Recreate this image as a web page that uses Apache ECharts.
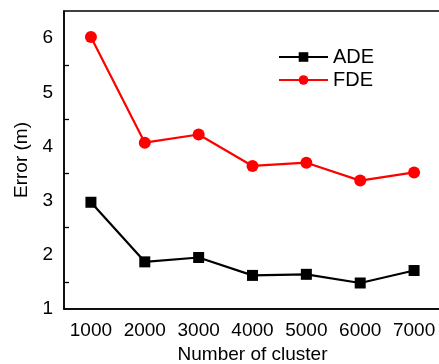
<!DOCTYPE html>
<html>
<head>
<meta charset="utf-8">
<script src="https://cdn.jsdelivr.net/npm/echarts@6/dist/echarts.min.js"></script>
<style>
  html, body { margin: 0; padding: 0; background: #fff; }
  #chart { width: 439px; height: 364px; }
</style>
</head>
<body>
<div id="chart"></div>
<script>
const clusters = ['1000', '2000', '3000', '4000', '5000', '6000', '7000'];
const ade = [2.97, 1.87, 1.95, 1.62, 1.64, 1.48, 1.71];
const fde = [6.02, 4.07, 4.22, 3.64, 3.70, 3.37, 3.52];

const font = 'Liberation Sans, Arial, sans-serif';
const chart = echarts.init(document.getElementById('chart'));
chart.setOption({
  animation: false,
  grid: {
    left: 64, top: 11, right: -2, bottom: 55,
    outerBoundsMode: 'none',
    containLabel: false,
    show: true, borderColor: '#000', borderWidth: 1.5
  },
  legend: {
    orient: 'vertical',
    left: 273, top: 42,
    itemWidth: 49, itemHeight: 12, itemGap: 3,
    textStyle: { fontFamily: font, fontSize: 20, color: '#000' },
    data: ['ADE', 'FDE']
  },
  xAxis: {
    type: 'category',
    data: clusters,
    boundaryGap: true,
    name: 'Number of cluster',
    nameLocation: 'middle',
    nameGap: 36,
    nameTextStyle: { fontFamily: font, fontSize: 19, color: '#000' },
    axisLine: { lineStyle: { color: '#000', width: 1.5 } },
    axisTick: { inside: true, alignWithLabel: true, length: 8, lineStyle: { color: '#000', width: 1.3 } },
    axisLabel: { fontFamily: font, fontSize: 19, color: '#000', margin: 12, interval: 0, hideOverlap: false },
    splitLine: { show: false }
  },
  yAxis: {
    type: 'value',
    min: 1, max: 6.5, interval: 1,
    name: 'Error (m)',
    nameLocation: 'middle',
    nameGap: 29,
    nameTextStyle: { fontFamily: font, fontSize: 19, color: '#000' },
    axisLine: { show: true, lineStyle: { color: '#000', width: 1.5 } },
    axisTick: { inside: true, length: 8, lineStyle: { color: '#000', width: 1.3 } },
    minorTick: { show: true, splitNumber: 2, length: 5, lineStyle: { color: '#000', width: 1.3 } },
    axisLabel: {
      fontFamily: font, fontSize: 19, color: '#000', margin: 11,
      formatter: v => (Number.isInteger(v) ? String(v) : '')
    },
    splitLine: { show: false }
  },
  series: [
    {
      name: 'ADE', type: 'line', data: ade,
      symbol: 'rect', symbolSize: 11,
      itemStyle: { color: '#000' },
      lineStyle: { color: '#000', width: 2.2 }
    },
    {
      name: 'FDE', type: 'line', data: fde,
      symbol: 'circle', symbolSize: 12,
      itemStyle: { color: '#ff0000' },
      lineStyle: { color: '#ff0000', width: 2.2 }
    }
  ]
});
</script>
</body>
</html>
